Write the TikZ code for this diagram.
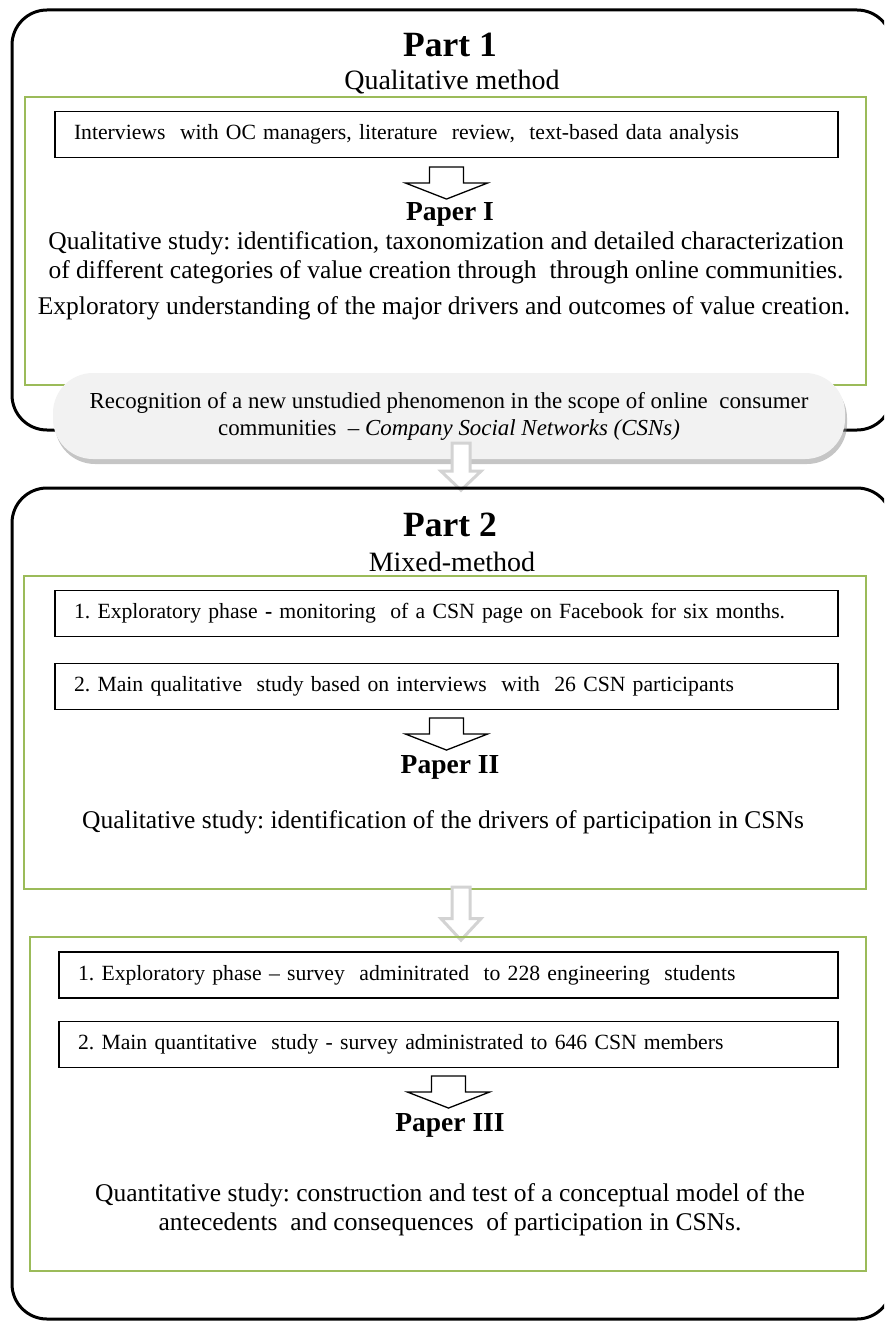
\documentclass[tikz,border=0pt]{standalone}
\usepackage{fontspec}
\setmainfont{Liberation Serif}
\usetikzlibrary{shadows}
\definecolor{leafgreen}{HTML}{9BBB59}
\definecolor{calloutgray}{HTML}{F2F2F2}
\definecolor{arrowgray}{HTML}{D3D3D3}
\frenchspacing
\tikzset{
  outerbox/.style={draw, line width=3pt, rounded corners=35pt},
  greenbox/.style={draw=leafgreen, line width=2.5pt},
  stepbox/.style={draw, line width=1.1pt, minimum width=783pt, minimum height=46pt,
    text width=745pt, inner xsep=19pt, align=left, font=\fontsize{21.7}{25}\selectfont},
  parttitle/.style={font=\bfseries\fontsize{35.5}{40}\selectfont},
  method/.style={font=\fontsize{28}{32}\selectfont},
  paper/.style={font=\bfseries\fontsize{27.5}{31}\selectfont},
  bodytext/.style={align=center, font=\fontsize{25.5}{29}\selectfont},
  callout/.style={fill=calloutgray, rounded corners=40pt, minimum width=792pt, minimum height=86pt,
    align=center, font=\fontsize{22.9}{27}\selectfont,
    drop shadow={shadow xshift=2pt, shadow yshift=-5pt, fill=black!45, opacity=0.5}},
  hollowarrow/.pic={\draw[line width=1.3pt, line join=miter, fill=white]
    (-17,0)--(17,0)--(17,16)--(41,16)--(0,32)--(-41,16)--(-17,16)--cycle;},
  greyarrow/.pic={\draw[arrowgray, line width=3pt, line join=miter, fill=white]
    (-9,0)--(9,0)--(9,28)--(20,28)--(0,47)--(-20,28)--(-9,28)--cycle;}
}
\begin{document}
\begin{tikzpicture}[x=1pt, y=-1pt]
\useasboundingbox (0,0) rectangle (884,1321);
\clip (0,0) rectangle (884,1321);
% part 1
\draw[outerbox] (12,10) rectangle (892,430);
\node[parttitle] (part1) at (450,45) {Part 1};
\node[method] (meth1) at (452,82) {Qualitative method};
\draw[greenbox] (25,97) rectangle (866,385);
\node[stepbox] (intv) at (446.5,134.5) {Interviews\ \ with OC managers, literature\ \ review,\ \ text-based data analysis};
\pic at ([yshift=-9pt]intv.south) {hollowarrow};
\node[paper] (pap1) at (450,214) {Paper I};
\node[bodytext] (res1) at (446,258) {Qualitative study: identification, taxonomization and detailed characterization\\
  of different categories of value creation through\ \ through online communities.};
\node[bodytext] (res1b) at (444,308) {Exploratory understanding of the major drivers and outcomes of value creation.};
% link between parts
\node[callout] (recog) at (449,416) {Recognition of a new unstudied phenomenon in the scope of online\ \ consumer\\
  communities\ \ -- \textit{Company Social Networks (CSNs)}};
\pic at ([yshift=16pt]recog.south -| 461,0) {greyarrow};
% part 2
\draw[outerbox] (12,488) rectangle (892,1319);
\node[parttitle] (part2) at (450,525) {Part 2};
\node[method] (meth2) at (452,562) {Mixed-method};
\draw[greenbox] (24,576) rectangle (866,889);
\coordinate (gap2) at (461,887);
\node[stepbox] (expl1) at (446.5,613.5) {1. Exploratory phase \textbf{-} monitoring\ \ of a CSN page on Facebook for six months.};
\node[stepbox] (qual2) at (446.5,686.5) {2. Main qualitative\ \ study based on interviews\ \ with\ \ 26 CSN participants};
\pic at ([yshift=-8pt]qual2.south) {hollowarrow};
\node[paper] (pap2) at (450,767) {Paper II};
\node[bodytext] (res2) at (443,822) {Qualitative study: identification of the drivers of participation in CSNs};
\pic[yscale=1.13] at (gap2) {greyarrow};
\draw[greenbox] (30,937) rectangle (866,1271);
\node[stepbox, minimum width=779pt, text width=741pt] (expl3) at (448.5,975) {1. Exploratory phase -- survey\ \ adminitrated\ \ to 228 engineering\ \ students};
\node[stepbox, minimum width=779pt, text width=741pt] (quan3) at (448.5,1044.5) {2. Main quantitative\ \ study - survey administrated to 646 CSN members};
\pic at ([yshift=-8pt]quan3.south) {hollowarrow};
\node[paper] (pap3) at (450,1125) {Paper III};
\node[bodytext] (res3) at (450,1210) {Quantitative study: construction and test of a conceptual model of the\\
  antecedents\ \ and consequences\ \ of participation in CSNs.};
\end{tikzpicture}
\end{document}
